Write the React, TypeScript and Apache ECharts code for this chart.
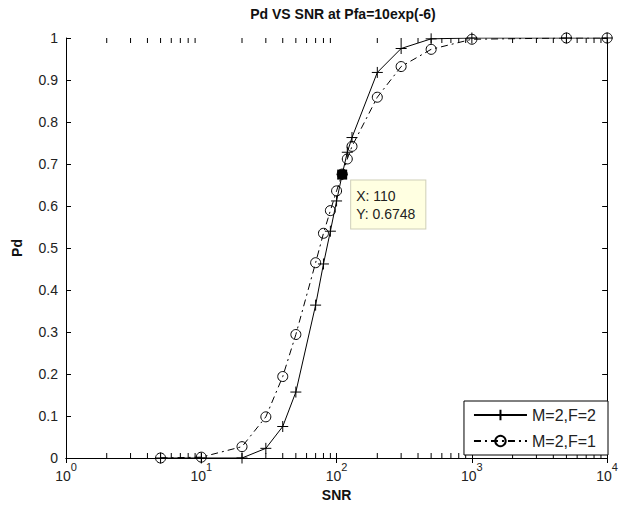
import React, { useEffect, useRef } from "react";
import * as echarts from "echarts";

const snr = [5, 10, 20, 30, 40, 50, 70, 80, 90, 100, 110, 120, 130, 200, 300, 500, 1000, 5000, 10000];
const pdF2 = [0, 0, 0, 0.023, 0.075, 0.157, 0.364, 0.462, 0.54, 0.612, 0.6748, 0.728, 0.763, 0.918, 0.975, 0.998, 1, 1, 1];
const pdF1 = [0, 0.002, 0.027, 0.098, 0.194, 0.294, 0.465, 0.535, 0.589, 0.636, 0.676, 0.712, 0.742, 0.859, 0.932, 0.973, 0.997, 1, 1];
const seriesNames = ["M=2,F=2", "M=2,F=1"];
const minorTickValues = [2, 3, 4, 5, 6, 7, 8, 9, 20, 30, 40, 50, 60, 70, 80, 90, 200, 300, 400, 500, 600, 700, 800, 900, 2000, 3000, 4000, 5000, 6000, 7000, 8000, 9000];
const tipSnr = 110;
const titleText = "Pd VS SNR at Pfa=10exp(-6)";

const FONT = "'Liberation Sans', Arial, sans-serif";

export default function App() {
  const ref = useRef<HTMLDivElement>(null);
  useEffect(() => {
    document.body.style.margin = "0";
    const chart = echarts.init(ref.current!, null, { renderer: "svg" });
    const tipIdx = snr.indexOf(tipSnr);
    const tipX = snr[tipIdx];
    const tipY = pdF2[tipIdx];
    const logAxisBase = {
      type: "log" as const,
      logBase: 10,
      min: 1,
      max: 10000,
      axisLine: { show: true, lineStyle: { color: "#000", width: 1 } },
      axisTick: { show: true, inside: true, length: 5, lineStyle: { color: "#000" } },
      splitLine: { show: false },
      minorTick: { show: false },
    };
    const valAxisBase = {
      type: "value" as const,
      min: 0,
      max: 1,
      interval: 0.1,
      axisLine: { show: true, lineStyle: { color: "#000", width: 1 } },
      axisTick: { show: true, inside: true, length: 5, lineStyle: { color: "#000" } },
      splitLine: { show: false },
    };
    const option: any = {
      animation: false,
      backgroundColor: "#fff",
      textStyle: { fontFamily: FONT },
      title: {
        text: titleText,
        left: 338,
        textAlign: "center",
        top: 2,
        textStyle: { fontFamily: FONT, fontWeight: "bold", fontSize: 14, color: "#111" },
      },
      grid: { left: 66, top: 38, width: 545, height: 420 },
      legend: {
        data: seriesNames,
        orient: "vertical",
        right: 13,
        bottom: 58,
        backgroundColor: "#fff",
        borderColor: "#000",
        borderWidth: 1,
        borderRadius: 0,
        padding: [6, 12, 6, 9],
        itemGap: 10,
        itemWidth: 53,
        itemHeight: 13,
        textStyle: { fontFamily: FONT, fontSize: 16, color: "#222" },
      },
      xAxis: [
        {
          ...logAxisBase,
          position: "bottom",
          name: "SNR",
          nameLocation: "middle",
          nameGap: 27,
          nameTextStyle: { fontFamily: FONT, fontWeight: "bold", fontSize: 14, color: "#111" },
          axisLabel: {
            show: true,
            margin: 3,
            formatter: (v: number) => "{b|10}{s|" + Math.round(Math.log10(v)) + "}",
            rich: {
              b: { fontFamily: FONT, fontSize: 14, color: "#222", lineHeight: 22, verticalAlign: "bottom" },
              s: { fontFamily: FONT, fontSize: 11, color: "#222", lineHeight: 12, verticalAlign: "top" },
            },
          },
        },
        {
          ...logAxisBase,
          position: "top",
          axisLabel: { show: false },
        },
      ],
      yAxis: [
        {
          ...valAxisBase,
          position: "left",
          name: "Pd",
          nameLocation: "middle",
          nameGap: 42,
          nameTextStyle: { fontFamily: FONT, fontWeight: "bold", fontSize: 14, color: "#111" },
          axisLabel: { show: true, margin: 8, fontFamily: FONT, fontSize: 14, color: "#222" },
        },
        {
          ...valAxisBase,
          position: "right",
          axisLabel: { show: false },
        },
      ],
      series: [
        {
          name: seriesNames[0],
          type: "line",
          xAxisIndex: 0,
          yAxisIndex: 0,
          data: snr.map((x, i) => [x, pdF2[i]]),
          symbol: "path://M0,5L10,5M5,0L5,10",
          symbolSize: 11,
          itemStyle: { color: "rgba(0,0,0,0)", borderColor: "#000", borderWidth: 1 },
          lineStyle: { color: "#000", width: 1, type: "solid" },
          z: 3,
          markPoint: {
            symbol: "rect",
            symbolSize: 10,
            itemStyle: { color: "#000", borderWidth: 0 },
            z: 10,
            data: [
              {
                coord: [tipX, tipY],
                label: {
                  show: true,
                  position: [14, 11],
                  formatter: "X: " + tipX + "\nY: " + tipY,
                  fontFamily: FONT,
                  fontSize: 14,
                  lineHeight: 18,
                  color: "#222",
                  backgroundColor: "#ffffe1",
                  borderColor: "#cfcfb8",
                  borderWidth: 1,
                  padding: [6, 10, 6, 5],
                },
              },
            ],
          },
        },
        {
          name: seriesNames[1],
          type: "line",
          xAxisIndex: 0,
          yAxisIndex: 0,
          data: snr.map((x, i) => [x, pdF1[i]]),
          symbol: "circle",
          symbolSize: 10,
          itemStyle: { color: "rgba(0,0,0,0)", borderColor: "#000", borderWidth: 1 },
          lineStyle: { color: "#000", width: 1, type: [7, 4, 2, 4] },
          z: 2,
        },
        {
          type: "custom",
          xAxisIndex: 0,
          yAxisIndex: 0,
          silent: true,
          data: minorTickValues.map((v) => [v, 0]),
          encode: { x: 0, y: 1 },
          renderItem: (params: any, api: any) => {
            const v = api.value(0);
            const b = api.coord([v, 0]);
            const t = api.coord([v, 1]);
            return {
              type: "group",
              children: [
                { type: "line", shape: { x1: b[0], y1: b[1], x2: b[0], y2: b[1] - 5 }, style: { stroke: "#000", lineWidth: 1 } },
                { type: "line", shape: { x1: t[0], y1: t[1], x2: t[0], y2: t[1] + 5 }, style: { stroke: "#000", lineWidth: 1 } },
              ],
            };
          },
          z: 1,
        },
      ],
    };
    chart.setOption(option);
    return () => chart.dispose();
  }, []);
  return <div ref={ref} style={{ position: "absolute", left: 0, top: 0, width: 621, height: 513 }} />;
}
